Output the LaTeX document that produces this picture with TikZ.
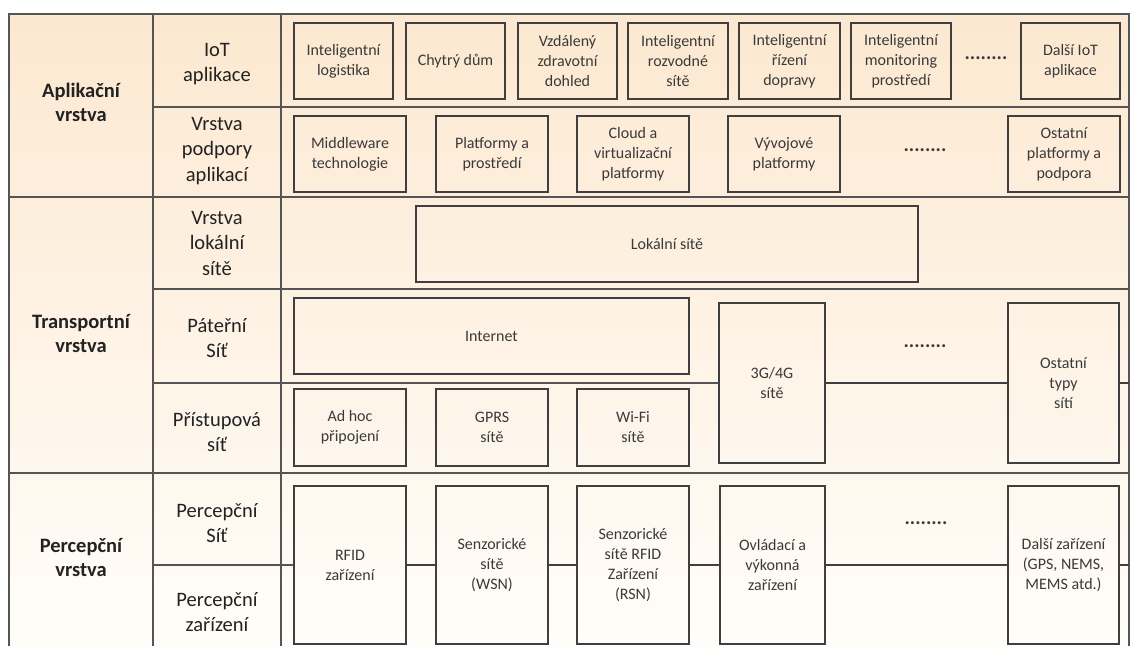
\documentclass[tikz,border=0pt]{standalone}
\usepackage{fontspec}
\setmainfont{Carlito}
\definecolor{bgtop}{HTML}{FCE8D0}
\definecolor{bgbot}{HTML}{FFFDF9}
\definecolor{framec}{HTML}{555555}
\definecolor{boxc}{HTML}{3F3F3F}
\definecolor{txtc}{HTML}{3A3A3A}
\definecolor{labc}{HTML}{222222}
\tikzset{
  bx/.style={draw=boxc, line width=1.2pt, align=center, text=txtc, inner sep=0pt,
    font=\fontsize{16}{20}\selectfont},
  dots/.style={text=txtc, inner sep=0pt, font=\fontsize{20}{24}\selectfont\bfseries},
  layerlab/.style={align=center, text=labc, font=\fontsize{20.5}{24}\selectfont\bfseries},
  sublab/.style={align=center, text=labc, font=\fontsize{20.5}{25.5}\selectfont},
  frameline/.style={draw=framec, line width=1.8pt},
  link/.style={draw=boxc, line width=1.2pt}
}
\begin{document}
\begin{tikzpicture}[x=1pt,y=-1pt]
\useasboundingbox (0,0) rectangle (1130,646);
% background
\fill[top color=bgtop, bottom color=bgbot] (9,14) rectangle (1129,646);
% frame
\draw[frameline] (9,646) -- (9,14) -- (1129,14) -- (1129,646);
\draw[frameline] (153,14) -- (153,646);
\draw[frameline] (281,14) -- (281,646);
\draw[frameline] (9,197) -- (1129,197);
\draw[frameline] (9,473) -- (1129,473);
\draw[frameline] (153,107) -- (1129,107);
\draw[frameline] (153,289) -- (1129,289);

% layer labels
\node[layerlab] (lapp) at (81,102) {Aplikační\\vrstva};
\node[layerlab] (ltr) at (81,333) {Transportní\\vrstva};
\node[layerlab] (lper) at (81,557) {Percepční\\vrstva};

% sub labels
\node[sublab] (sIoT) at (217,64) {IoT\\aplikace};
\node[sublab] (sPod) at (217,151) {Vrstva\\podpory\\aplikací};
\node[sublab] (sLok) at (217,243) {Vrstva\\lokální\\sítě};
\node[sublab] (sPat) at (217,338) {Páteřní\\Síť};
\node[sublab] (sPri) at (217,432) {Přístupová\\síť};
\node[sublab] (sPs) at (217,523) {Percepční\\Síť};
\node[sublab] (sPz) at (217,612) {Percepční\\zařízení};

% row 1: IoT aplikace
\node[bx, minimum width=99pt, minimum height=76pt] (a1) at (343.5,61) {Inteligentní\\logistika};
\node[bx, minimum width=99pt, minimum height=76pt] (a2) at (455.5,61) {Chytrý dům};
\node[bx, minimum width=99pt, minimum height=76pt] (a3) at (567.5,61) {Vzdálený\\zdravotní\\dohled};
\node[bx, minimum width=100pt, minimum height=76pt] (a4) at (678,61) {Inteligentní\\rozvodné\\sítě};
\node[bx, minimum width=101pt, minimum height=76pt] (a5) at (789.5,61) {Inteligentní\\řízení\\dopravy};
\node[bx, minimum width=100pt, minimum height=76pt] (a6) at (901,61) {Inteligentní\\monitoring\\prostředí};
\node[dots] (a7) at (986,58) {........};
\node[bx, minimum width=99pt, minimum height=76pt] (a8) at (1070.5,61) {Další IoT\\aplikace};

% row 2: podpora aplikaci
\node[bx, minimum width=112pt, minimum height=76pt] (b1) at (350,154) {Middleware\\technologie};
\node[bx, minimum width=112pt, minimum height=76pt] (b2) at (492,154) {Platformy a\\prostředí};
\node[bx, minimum width=112pt, minimum height=76pt] (b3) at (633,154) {Cloud a\\virtualizační\\platformy};
\node[bx, minimum width=112pt, minimum height=76pt] (b4) at (784,154) {Vývojové\\platformy};
\node[dots] (b5) at (925,150) {........};
\node[bx, minimum width=112pt, minimum height=76pt] (b6) at (1064,154) {Ostatní\\platformy a\\podpora};

% row 3: lokalni site
\node[bx, minimum width=502pt, minimum height=76pt] (lok) at (667,244) {Lokální sítě};

% row 4/5: pateri a pristupova sit
\node[bx, minimum width=395pt, minimum height=76pt] (inet) at (491.5,336) {Internet};
\node[bx, minimum width=106pt, minimum height=160pt] (g34) at (772,383) {3G/4G\\sítě};
\node[dots] (c5) at (925,346) {........};
\node[bx, minimum width=111pt, minimum height=160pt] (ost) at (1063.5,383) {Ostatní\\typy\\sítí};
\node[bx, minimum width=112pt, minimum height=77pt] (adh) at (350,427.5) {Ad hoc\\připojení};
\node[bx, minimum width=112pt, minimum height=77pt] (gprs) at (492,427.5) {GPRS\\sítě};
\node[bx, minimum width=112pt, minimum height=77pt] (wifi) at (633,427.5) {Wi-Fi\\sítě};
\coordinate (pl) at (153,383);
\coordinate (pr) at (1129,383);
\draw[frameline] (pl) -- (g34.west);
\draw[link] (g34.east) -- (ost.west);
\draw[link] (ost.east) -- (pr);

% perception
\node[bx, minimum width=112pt, minimum height=158pt] (rfid) at (350,565) {RFID\\zařízení};
\node[bx, minimum width=112pt, minimum height=158pt] (wsn) at (492,565) {Senzorické\\sítě\\(WSN)};
\node[bx, minimum width=112pt, minimum height=158pt] (rsn) at (633,565) {Senzorické\\sítě RFID\\Zařízení\\(RSN)};
\node[bx, minimum width=105pt, minimum height=158pt] (ovl) at (772.5,565) {Ovládací a\\výkonná\\zařízení};
\node[dots] (d5) at (926,523) {........};
\node[bx, minimum width=111pt, minimum height=158pt] (dal) at (1063.5,565) {Další zařízení\\(GPS, NEMS,\\MEMS atd.)};
\coordinate (ql) at (153,565);
\coordinate (qr) at (1129,565);
\draw[frameline] (ql) -- (rfid.west);
\draw[link] (rfid.east) -- (wsn.west);
\draw[link] (wsn.east) -- (rsn.west);
\draw[link] (rsn.east) -- (ovl.west);
\draw[link] (ovl.east) -- (dal.west);
\draw[link] (dal.east) -- (qr);
\end{tikzpicture}
\end{document}
